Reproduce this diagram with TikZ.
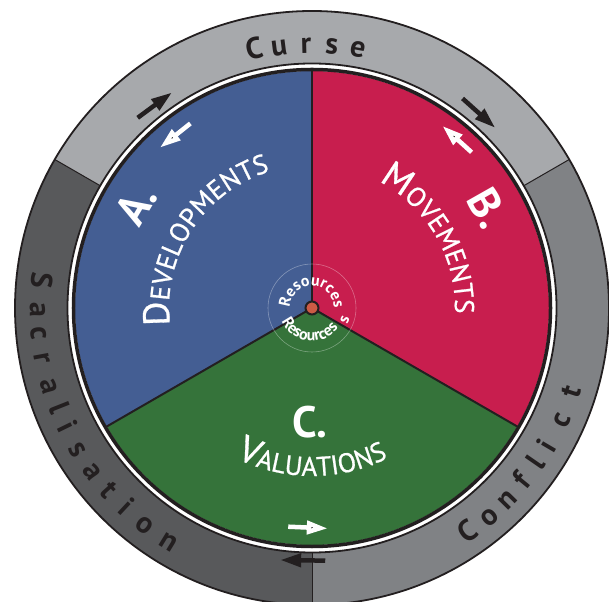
\documentclass[tikz,border=0pt]{standalone}
\usepackage{fontspec}
\setmainfont{PT Sans}
\newfontfamily\wordfont{PT Sans}[FakeBold=0.8]
\usetikzlibrary{arrows.meta, decorations.text}

\definecolor{devblue}{HTML}{445E93}
\definecolor{movred}{HTML}{C81E4E}
\definecolor{valgreen}{HTML}{35733A}
\definecolor{ringlight}{HTML}{A7A9AC}
\definecolor{ringdark}{HTML}{58595B}
\definecolor{ringmid}{HTML}{808285}
\definecolor{inkblack}{HTML}{231F20}
\definecolor{corered}{HTML}{CC5B45}

% fake small caps for the sector names
\newcommand{\capfirst}{\wordfont\fontsize{37}{37}\selectfont}
\newcommand{\caprest}{\wordfont\fontsize{27}{27}\selectfont}
\newcommand{\hubfont}{\fontsize{16}{16}\selectfont\bfseries}

\begin{document}
\begin{tikzpicture}[x=1pt, y=1pt,
    ringletter/.style={font=\fontsize{30}{30}\selectfont\bfseries,
      text=inkblack, anchor=base, inner sep=0},
    bigletter/.style={font=\fontsize{44}{44}\selectfont\bfseries,
      text=white, anchor=base, inner sep=0},
    ringarrow/.style={draw=inkblack, line width=4.5,
      -{Triangle[length=21pt, width=13pt]}},
    piearrow/.style={draw=white, line width=4.5,
      -{Triangle[length=21pt, width=13pt]}},
    wordarc/.style={decorate, decoration={text along path,
      text color=white, text align=center, text={#1}}}]
  \useasboundingbox (-312,-293) rectangle (297,308);

  % OUTER RING

  \foreach \col/\a/\b in {ringlight/30/150, ringdark/150/270, ringmid/270/390}
    \fill[\col] (\a:297) arc[start angle=\a, end angle=\b, radius=297]
      -- (\b:244.5) arc[start angle=\b, end angle=\a, radius=244.5] -- cycle;
  \foreach \a in {30,150,270}
    \draw[inkblack, line width=1] (\a:244.5) -- (\a:297);
  \draw[inkblack, line width=1.8] (0,0) circle[radius=297]
    (0,0) circle[radius=244.5];

  \foreach \ch/\a [count=\i] in {C/102.6, u/97.2, r/91.3, s/85.7, e/80.0}
    \node[ringletter, rotate=\a-90] (curse\i) at (\a:255) {\ch};
  \foreach \ch/\a [count=\i] in {S/174.2, a/180.4, c/185.3, r/190.5, a/196.6,
      l/201.6, i/206.0, s/211.2, a/216.8, t/222.0, i/227.0, o/232.5, n/238.5}
    \node[ringletter, rotate=\a+90] (sacral\i) at (\a:282) {\ch};
  \foreach \ch/\a [count=\i] in {C/304.9, o/310.3, n/315.6, f/320.6, l/325.4,
      i/329.6, c/335.7, t/342.2}
    \node[ringletter, rotate=\a+90] (conflict\i) at (\a:282) {\ch};

  % SECTORS

  \coordinate (hub) at (0,0);
  \fill[devblue] (hub) -- (90:237) arc[start angle=90, end angle=210, radius=237] -- cycle;
  \fill[valgreen] (hub) -- (210:237) arc[start angle=210, end angle=330, radius=237] -- cycle;
  \fill[movred] (hub) -- (-30:237) arc[start angle=-30, end angle=90, radius=237] -- cycle;
  \foreach \a in {90,210,330}
    \draw[inkblack, line width=2] (hub) -- (\a:237);
  \draw[inkblack, line width=3.5] (hub) circle[radius=238.5];

  \node[bigletter, rotate=59.5] (alabel) at (149.5:189) {A.};
  \node[bigletter, rotate=-60.5] (blabel) at (29.5:187) {B.};
  \node[bigletter] (clabel) at (-2,-130) {C.};

  \path[wordarc={|\capfirst|D|\caprest|EVELOPMENTS}]
    (200:143) arc[start angle=200, end angle=94, radius=143];
  \path[wordarc={|\capfirst|M|\caprest|OVEMENTS}]
    (83:143) arc[start angle=83, end angle=-23, radius=143];
  \path[wordarc={|\capfirst|V|\caprest|ALUATIONS}]
    (215:168) arc[start angle=215, end angle=325, radius=168];

  % ARROWS

  \coordinate (devtail) at (123.4:221);  \coordinate (devhead) at (133.5:221);
  \coordinate (movtail) at (44.3:223);   \coordinate (movhead) at (54.4:224);
  \coordinate (valtail) at (263.8:220);  \coordinate (valhead) at (274.1:221);
  \draw[piearrow] (devtail) -- (devhead);
  \draw[piearrow] (movtail) -- (movhead);
  \draw[piearrow] (valtail) -- (valhead);

  \coordinate (cursetail) at (132.5:258);  \coordinate (cursehead) at (123:257);
  \coordinate (conftail) at (54.3:258);    \coordinate (confhead) at (44.5:257);
  \coordinate (sacrtail) at (273:253);     \coordinate (sacrhead) at (262.8:254);
  \draw[ringarrow] (cursetail) -- (cursehead);
  \draw[ringarrow] (conftail) -- (confhead);
  \draw[ringarrow] (sacrtail) -- (sacrhead);

  % HUB

  \draw[white, opacity=.35, line width=.6] (hub) circle[radius=44];
  \path[wordarc={|\hubfont|Resources}]
    (200:22) arc[start angle=200, end angle=-20, radius=22];
  \path[wordarc={|\hubfont|Resources}]
    (170:33) arc[start angle=170, end angle=356, radius=33];
  \node[font=\hubfont, text=white, rotate=68, anchor=base, inner sep=0]
    (hubstray) at (-20:39) {s};
  \draw[fill=corered, draw=inkblack, line width=2] (hub) circle[radius=6.5];
\end{tikzpicture}
\end{document}
